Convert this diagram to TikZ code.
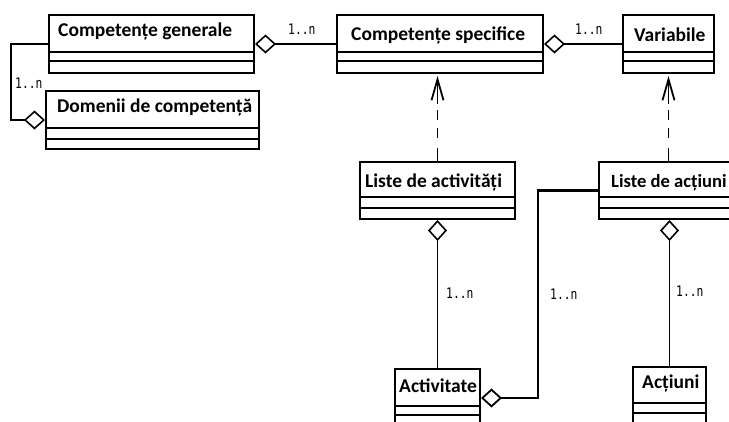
\documentclass[tikz,border=0pt]{standalone}
\usepackage{fontspec}
\setmainfont{Carlito}
\newfontfamily\monof{DejaVu Sans Mono}
\usetikzlibrary{arrows.meta}
\tikzset{
  cls/.style={draw, line width=2pt, anchor=north west, inner sep=0pt, fill=white, minimum height=58pt},
  sepline/.style={line width=2pt},
  ttl/.style={anchor=base west, inner sep=0pt, font=\fontsize{19.5}{21}\selectfont\bfseries},
  mult/.style={anchor=base west, inner sep=0pt, font=\monof\fontsize{14.5}{16}\selectfont},
  conn/.style={line width=1.3pt},
  agg/.style={conn, -{Diamond[open, length=21pt, width=19pt, line width=1.6pt]}},
  dep/.style={line width=1.6pt, dash pattern=on 13pt off 10pt on 10pt off 8pt on 10pt off 6pt on 80pt off 0pt,
    -{Straight Barb[length=21pt, width=12pt, line width=1.8pt]}, shorten >=2pt},
}
\newcommand\clsLines[3]{%
  \draw[sepline] ([yshift=-#2pt]#1.north west) -- ([yshift=-#2pt]#1.north east);
  \draw[sepline] ([yshift=-#3pt]#1.north west) -- ([yshift=-#3pt]#1.north east);}
\newcommand\mlabel[1]{\scalebox{0.78}[1]{#1}}
\begin{document}
\begin{tikzpicture}[x=1pt, y=-1pt]
\useasboundingbox (0,0) rectangle (729,421);
\fill[white] (0,0) rectangle (729,421);
\clip (0,0) rectangle (729,421);

% classes
\node[cls, minimum width=205pt] (cg) at (48,14) {};
\clsLines{cg}{38}{47}
\node[ttl] (cgt) at (58,36) {Competențe generale};

\node[cls, minimum width=213pt] (dom) at (45,90) {};
\clsLines{dom}{38}{49}
\node[ttl] (domt) at (57,112) {Domenii de competență};

\node[cls, minimum width=206pt] (cs) at (336,14) {};
\clsLines{cs}{38}{47}
\node[ttl] (cst) at (351,40) {Competențe specifice};

\node[cls, minimum width=91pt] (var) at (622,14) {};
\clsLines{var}{38}{47}
\node[ttl] (vart) at (634,41) {Variabile};

\node[cls, minimum width=155pt, minimum height=57pt] (la) at (359,161) {};
\clsLines{la}{36}{47}
\node[ttl] (lat) at (365,187) {Liste de activități};

\node[cls, minimum width=150pt, minimum height=57pt] (lac) at (598,161) {};
\clsLines{lac}{36}{47}
\node[ttl, font=\fontsize{18.6}{20}\selectfont\bfseries] (lact) at (611,187) {Liste de acțiuni};

\node[cls, minimum width=85pt] (act) at (394,368) {};
\clsLines{act}{38}{47}
\node[ttl] (actt) at (399,392) {Activitate};

\node[cls, minimum width=73pt] (ac) at (632,366) {};
\clsLines{ac}{37}{47}
\node[ttl] (act2) at (642,388) {Acțiuni};

% connectors
\draw[agg] (cg.west) -- ++(-37,0) |- (dom.west);
\draw[agg] (cs.west) -- (cg.east);
\draw[agg] (var.west) -- (cs.east);
\draw[dep] (la.north) -- (la.north |- cs.south);
\draw[dep] (var.south |- lac.north) -- (var.south);
\draw[agg] (act.north) -- (act.north |- la.south);
\draw[agg] (ac.north) -- (ac.north |- lac.south);
\draw[conn, line width=2.5pt, -{Diamond[open, length=21pt, width=19pt, line width=1.8pt]}]
  (lac.west) -- ++(-60,0) |- (act.east);

% multiplicities
\node[mult] (m1) at (15,88) {\mlabel{1..n}};
\node[mult] (m2) at (288,34) {\mlabel{1..n}};
\node[mult] (m3) at (575,34) {\mlabel{1..n}};
\node[mult] (m4) at (446,298) {\mlabel{1..n}};
\node[mult] (m5) at (550,299) {\mlabel{1..n}};
\node[mult] (m6) at (676,296) {\mlabel{1..n}};
\end{tikzpicture}
\end{document}
